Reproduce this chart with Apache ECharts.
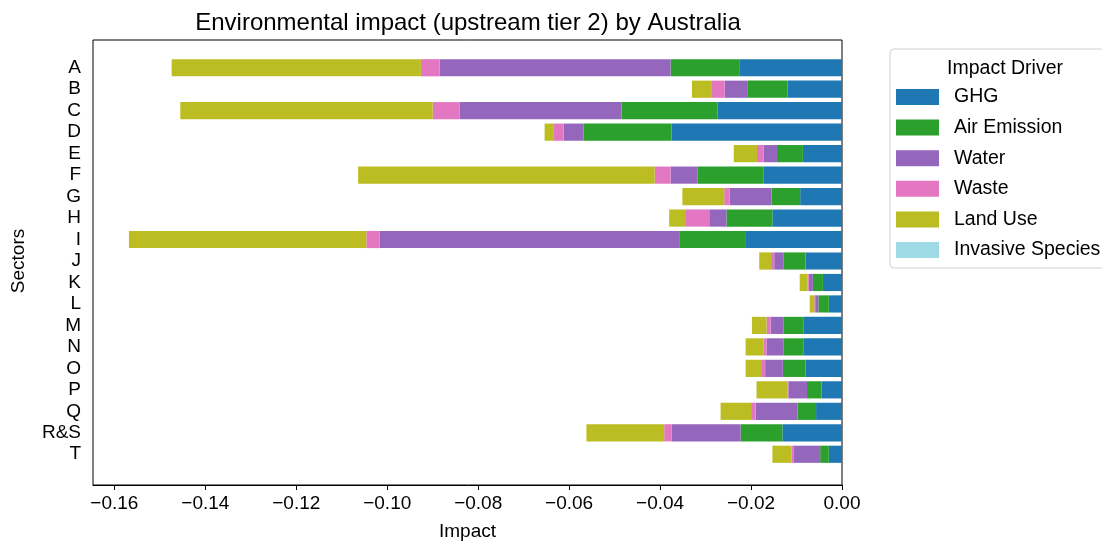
<!DOCTYPE html>
<html>
<head>
<meta charset="utf-8">
<script src="https://cdn.jsdelivr.net/npm/echarts@6/dist/echarts.min.js"></script>
<style>
  html, body { margin: 0; padding: 0; background: #fff; }
  #chart { width: 1102px; height: 548px; }
</style>
</head>
<body>
<div id="chart"></div>
<script>
const sectors = ['A', 'B', 'C', 'D', 'E', 'F', 'G', 'H', 'I', 'J', 'K', 'L', 'M', 'N', 'O', 'P', 'Q', 'R&S', 'T']
const drivers = ['GHG', 'Air Emission', 'Water', 'Waste', 'Land Use', 'Invasive Species']

// impact per sector (negative = damage)
const ghg      = [-0.0226, -0.0120, -0.0274, -0.0375, -0.0086, -0.0172, -0.0092, -0.0153, -0.0213, -0.0080, -0.0042, -0.0029, -0.0084, -0.0084, -0.0080, -0.0045, -0.0057, -0.0131, -0.0029]
const air      = [-0.0151, -0.0087, -0.0211, -0.0193, -0.0057, -0.0146, -0.0063, -0.0101, -0.0145, -0.0048, -0.0022, -0.0023, -0.0044, -0.0044, -0.0050, -0.0032, -0.0041, -0.0092, -0.0019]
const water    = [-0.0508, -0.0051, -0.0356, -0.0044, -0.0029, -0.0059, -0.0092, -0.0038, -0.0659, -0.0021, -0.0009, -0.0007, -0.0029, -0.0038, -0.0039, -0.0041, -0.0092, -0.0152, -0.0059]
const waste    = [-0.0041, -0.0028, -0.0059, -0.0023, -0.0015, -0.0035, -0.0012, -0.0053, -0.0029, -0.0007, -0.0003, -0.0002, -0.0009, -0.0006, -0.0009, -0.0002, -0.0010, -0.0016, -0.0004]
const landUse  = [-0.0548, -0.0044, -0.0555, -0.0019, -0.0051, -0.0652, -0.0092, -0.0035, -0.0522, -0.0026, -0.0017, -0.0010, -0.0032, -0.0040, -0.0034, -0.0068, -0.0067, -0.0171, -0.0042]
const invasive = [0, 0, 0, 0, 0, 0, 0, 0, 0, 0, 0, 0, 0, 0, 0, 0, 0, 0, 0]

const xTicks = [-0.16, -0.14, -0.12, -0.10, -0.08, -0.06, -0.04, -0.02, 0.00]
const xMin = -0.1647
const xMax = 0

const colors = ['#1f77b4', '#2ca02c', '#9467bd', '#e377c2', '#bcbd22', '#9edae5']
const values = [ghg, air, water, waste, landUse, invasive]
const font = "'Liberation Sans', Arial, sans-serif"

const seriesData = []
drivers.forEach((name, i) => {
    seriesData.push({
        name: name,
        type: 'bar',
        stack: 'impact',
        xAxisIndex: 1,
        yAxisIndex: 1,
        barWidth: '80%',
        itemStyle: {color: colors[i]},
        emphasis: {disabled: true},
        data: values[i]
    })
})

const options = {
    animation: false,
    color: colors,
    textStyle: {fontFamily: font},
    title: [
        {
            text: 'Environmental impact (upstream tier 2) by Australia',
            left: 463,
            top: 6,
            textAlign: 'center',
            textStyle: {fontFamily: font, fontSize: 24, fontWeight: 'normal', color: '#000'}
        },
        {
            text: 'Impact Driver',
            left: 1000,
            top: 54,
            textAlign: 'center',
            textStyle: {fontFamily: font, fontSize: 19.5, fontWeight: 'normal', color: '#000'}
        }
    ],
    legend: {
        orient: 'vertical',
        left: 890,
        top: 49,
        padding: [38, 40, 8, 6],
        itemWidth: 43,
        itemHeight: 16,
        itemGap: 10.6,
        selectedMode: false,
        borderColor: '#d0d0d0',
        borderWidth: 1,
        borderRadius: 4,
        icon: 'rect',
        textStyle: {fontFamily: font, fontSize: 19.5, color: '#000', padding: [0, 0, 0, 10]},
        data: drivers
    },
    grid: [
        {left: 93, right: 260, top: 40, bottom: 63, show: true, borderColor: '#000', borderWidth: 1},
        {left: 93, right: 260, top: 57, bottom: 83}
    ],
    xAxis: [
        {
            type: 'value',
            gridIndex: 0,
            min: xMin,
            max: xMax,
            name: 'Impact',
            nameLocation: 'middle',
            nameGap: 37,
            nameTextStyle: {fontFamily: font, fontSize: 19, color: '#000'},
            axisLine: {show: true, lineStyle: {color: '#000'}},
            axisTick: {show: true, length: 5, customValues: xTicks, lineStyle: {color: '#000'}},
            axisLabel: {
                customValues: xTicks,
                fontSize: 19,
                color: '#000',
                margin: 9,
                formatter: v => v.toFixed(2).replace('-', '\u2212')
            },
            splitLine: {show: false}
        },
        {type: 'value', gridIndex: 1, min: xMin, max: xMax, show: false}
    ],
    yAxis: [
        {type: 'value', gridIndex: 0, show: false},
        {
            type: 'category',
            gridIndex: 1,
            inverse: true,
            data: sectors,
            name: 'Sectors',
            nameLocation: 'middle',
            nameGap: 65,
            nameTextStyle: {fontFamily: font, fontSize: 19, color: '#000'},
            axisLine: {show: false},
            axisTick: {show: true, alignWithLabel: true, interval: 0, length: 6, lineStyle: {color: '#000'}},
            axisLabel: {fontSize: 19, color: '#000', margin: 12, interval: 0}
        }
    ],
    series: seriesData
}

const chart = echarts.init(document.getElementById('chart'))
chart.setOption(options)
window.addEventListener('resize', () => chart.resize())
</script>
</body>
</html>
